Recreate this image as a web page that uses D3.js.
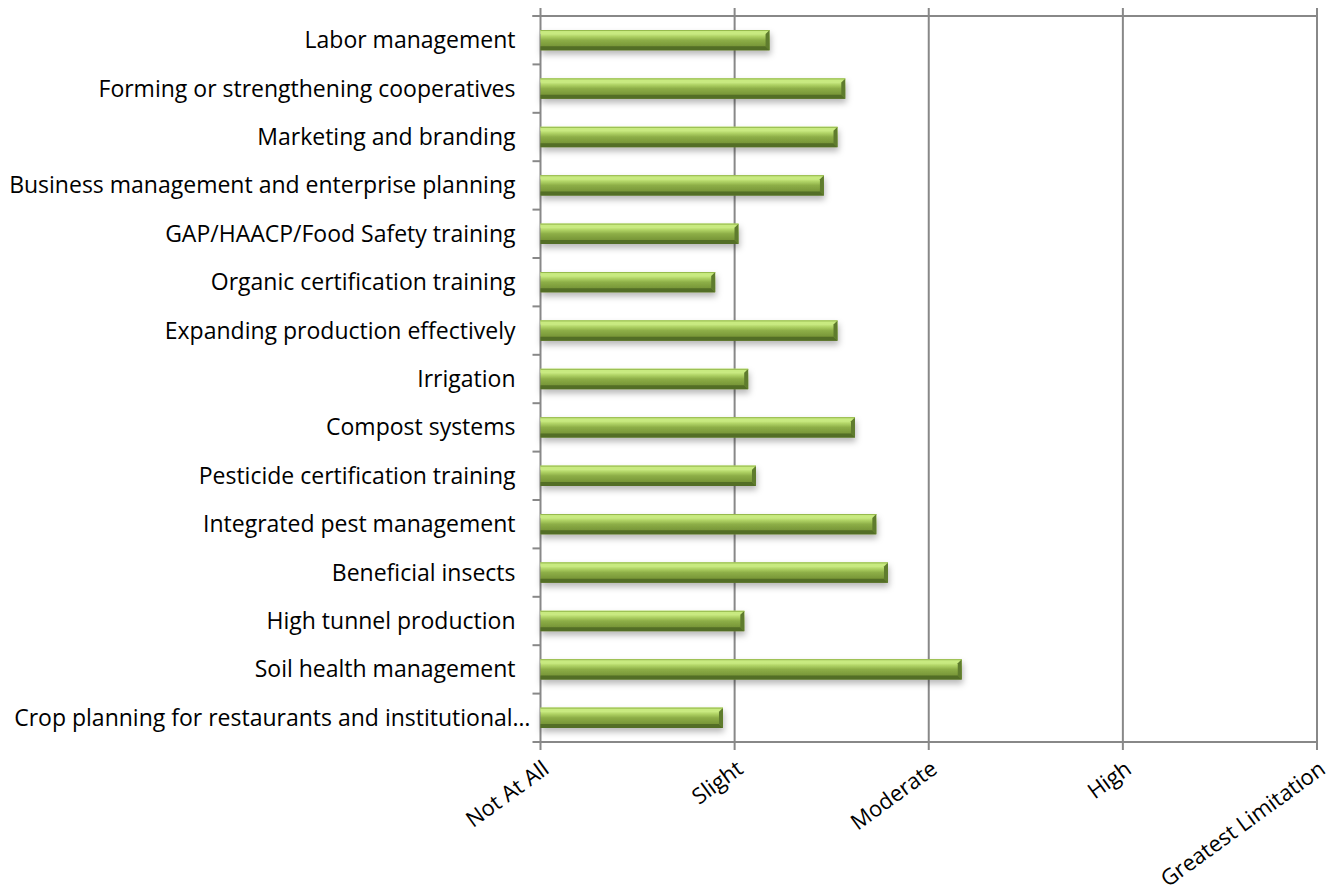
<!DOCTYPE html>
<html>
<head>
<meta charset="utf-8">
<script src="https://cdn.jsdelivr.net/npm/d3@7"></script>
<style>
  body { margin: 0; background: #fff; }
  svg text { font-family: "Open Sans", "Noto Sans", sans-serif; fill: #000; }
</style>
</head>
<body>
<svg class="chart" width="1333" height="892"></svg>
<script>
// categories, top to bottom as drawn
const categories = [
  'Labor management',
  'Forming or strengthening cooperatives',
  'Marketing and branding',
  'Business management and enterprise planning',
  'GAP/HAACP/Food Safety training',
  'Organic certification training',
  'Expanding production effectively',
  'Irrigation',
  'Compost systems',
  'Pesticide certification training',
  'Integrated pest management',
  'Beneficial insects',
  'High tunnel production',
  'Soil health management',
  'Crop planning for restaurants and institutional…'
];
// mean rating (1 = Not At All ... 5 = Greatest Limitation)
const values = [2.18, 2.57, 2.53, 2.46, 2.02, 1.90, 2.53, 2.07, 2.62, 2.11, 2.73, 2.79, 2.05, 3.17, 1.94];
const tickValues = [1, 2, 3, 4, 5];
const tickLabels = ['Not At All', 'Slight', 'Moderate', 'High', 'Greatest Limitation'];

const svg = d3.select('.chart');
const plotLeft = 540.5, plotRight = 1317, plotTop = 16, plotBottom = 742;

const x = d3.scaleLinear().domain([1, 5]).range([plotLeft, plotRight]);
const y = d3.scaleBand().domain(categories).range([plotTop, plotBottom])
  .paddingInner(0.58).paddingOuter(0.29);

const defs = svg.append('defs');
const grad = defs.append('linearGradient').attr('id', 'barGrad')
  .attr('x1', 0).attr('y1', 0).attr('x2', 0).attr('y2', 1);
[[0, '#b7dc6a'], [0.12, '#d9f794'], [0.3, '#b2d567'], [0.5, '#8dae47'],
 [0.75, '#7b9a3a'], [1, '#6b8832']].forEach(s => {
  grad.append('stop').attr('offset', s[0]).attr('stop-color', s[1]);
});
const shadow = defs.append('filter').attr('id', 'shadow')
  .attr('x', '-5%').attr('y', '-50%').attr('width', '110%').attr('height', '220%');
shadow.append('feDropShadow').attr('dx', 1).attr('dy', 4).attr('stdDeviation', 3)
  .attr('flood-color', '#000').attr('flood-opacity', 0.28);

// gridlines
const grid = svg.append('g').attr('class', 'grid');
grid.selectAll('line').data(tickValues).enter().append('line')
  .attr('x1', d => x(d)).attr('x2', d => x(d))
  .attr('y1', plotTop - 8).attr('y2', plotBottom + 8)
  .attr('stroke', '#888').attr('stroke-width', 2);

// horizontal frame lines
[plotTop, plotBottom].forEach(yy => {
  svg.append('line').attr('x1', plotLeft - 8).attr('x2', plotRight)
    .attr('y1', yy).attr('y2', yy)
    .attr('stroke', '#888').attr('stroke-width', 2);
});

// category ticks at band edges
const edges = categories.map(c => y(c) - y.step() * y.paddingInner() / 2);
svg.selectAll('.ctick').data(edges).enter().append('line')
  .attr('class', 'ctick')
  .attr('x1', plotLeft - 8).attr('x2', plotLeft)
  .attr('y1', d => d).attr('y2', d => d)
  .attr('stroke', '#888').attr('stroke-width', 2);

// category labels (the truncated one sits closer to the axis)
svg.selectAll('.clabel').data(categories).enter().append('text')
  .attr('class', 'clabel')
  .attr('x', d => d.endsWith('…') ? plotLeft - 10 : plotLeft - 25)
  .attr('y', d => y(d) + y.bandwidth() / 2)
  .attr('dy', '0.35em')
  .attr('text-anchor', 'end')
  .style('font-size', '23px')
  .text(d => d);

// bars
const b = 4;
const bars = svg.selectAll('.bar').data(categories).enter().append('g')
  .attr('class', 'bar')
  .attr('filter', 'url(#shadow)');
bars.each(function(c, i) {
  const g = d3.select(this);
  const x0 = x(1), x1 = x(values[i]);
  const y0 = y(c), y1 = y(c) + y.bandwidth();
  g.append('rect').attr('x', x0).attr('y', y0)
    .attr('width', x1 - x0).attr('height', y1 - y0)
    .attr('fill', 'url(#barGrad)');
  g.append('polygon').attr('points', [[x0, y0], [x1, y0], [x1 - b, y0 + b], [x0, y0 + b]].join(' '))
    .attr('fill', '#c8ea80');
  g.append('polygon').attr('points', [[x0, y1 - b], [x1 - b, y1 - b], [x1, y1], [x0, y1]].join(' '))
    .attr('fill', '#536e27');
  g.append('polygon').attr('points', [[x1 - b, y0 + b], [x1, y0], [x1, y1], [x1 - b, y1 - b]].join(' '))
    .attr('fill', '#5f7c2d');
  g.append('line').attr('x1', x0).attr('x2', x1).attr('y1', y0 + 0.5).attr('y2', y0 + 0.5)
    .attr('stroke', '#94b84c').attr('stroke-width', 1);
});

// x tick labels, rotated
svg.selectAll('.xlabel').data(tickValues).enter().append('text')
  .attr('class', 'xlabel')
  .attr('transform', d => `translate(${x(d) + 10},${plotBottom + 30}) rotate(-36)`)
  .attr('text-anchor', 'end')
  .style('font-size', '22px')
  .text((d, i) => tickLabels[i]);
</script>
</body>
</html>
